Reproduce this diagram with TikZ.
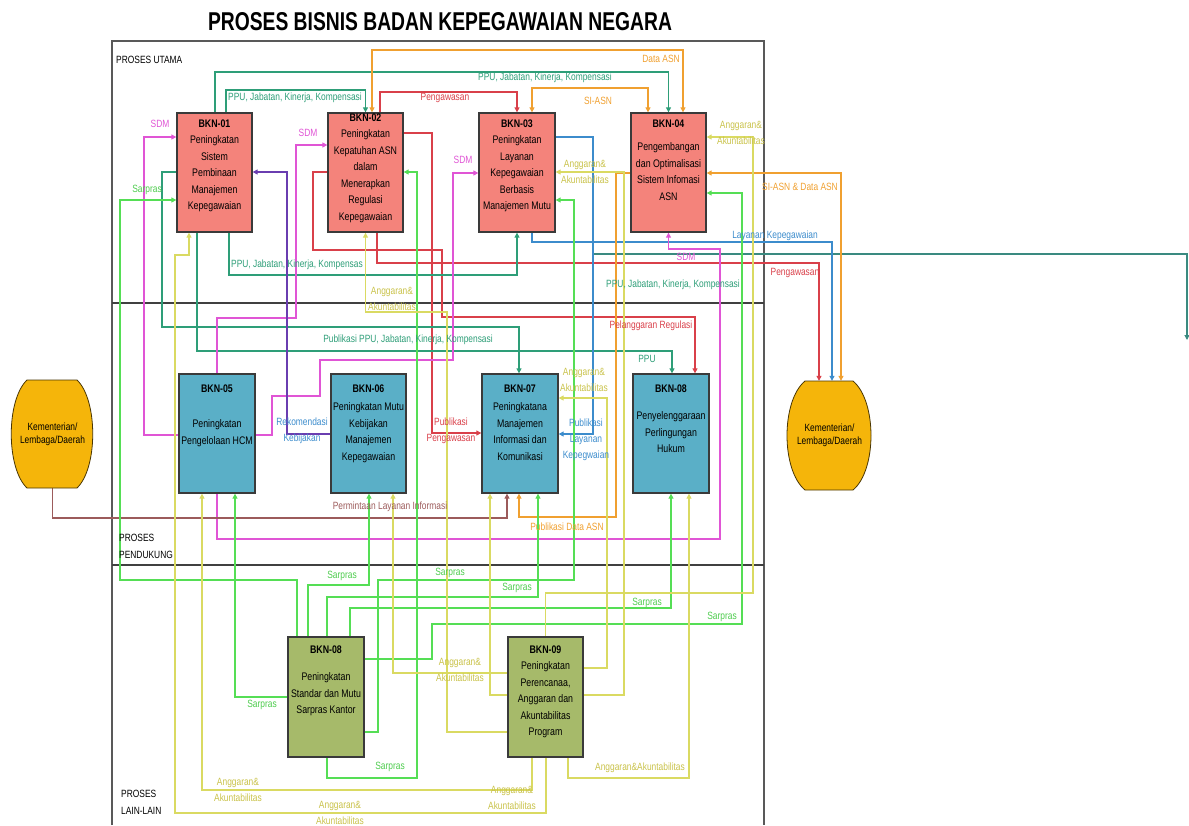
\documentclass[tikz,border=0pt]{standalone}
\usepackage{fontspec}
\setmainfont{Liberation Sans}[FakeStretch=0.8]
\usepackage{graphicx}
\usetikzlibrary{arrows.meta}
\pgfdeclarelayer{background}
\pgfsetlayers{background,main}
\definecolor{cred}{HTML}{D9404A}
\definecolor{cteal}{HTML}{2E9E78}
\definecolor{cdteal}{HTML}{3A8A80}
\definecolor{cgreen}{HTML}{55DE55}
\definecolor{cyel}{HTML}{DADA62}
\definecolor{cyellbl}{HTML}{C9C24A}
\definecolor{corange}{HTML}{F0A030}
\definecolor{cmag}{HTML}{E055D5}
\definecolor{cblue}{HTML}{3C8CCC}
\definecolor{cpurple}{HTML}{6A3DB0}
\definecolor{cbrown}{HTML}{9C5B5B}
\definecolor{csalmon}{HTML}{F4837B}
\definecolor{cboxteal}{HTML}{5AAFC7}
\definecolor{colive}{HTML}{A6BA6A}
\definecolor{cbarrel}{HTML}{F5B50A}
\definecolor{boxline}{HTML}{3A3A3A}
\tikzset{
  w/.style={line width=1.1pt, -{Triangle[length=5pt,width=5pt]}},
  ww/.style={line width=1.1pt, {Triangle[length=5pt,width=5pt]}-{Triangle[length=5pt,width=5pt]}},
  boxbase/.style={draw=boxline, line width=1.3pt, minimum width=75pt, minimum height=119pt, inner sep=0pt},
  upbox/.style={boxbase, fill=csalmon},
  midbox/.style={boxbase, fill=cboxteal},
  lowbox/.style={boxbase, fill=colive},
  btxt/.style={anchor=north, align=center, inner sep=0pt, font=\fontsize{11}{16.5}\selectfont},
  lbl/.style={inner sep=0pt, align=center, font=\fontsize{10.5}{16}\selectfont},
  lred/.style={lbl, text=cred}, lteal/.style={lbl, text=cteal}, lgreen/.style={lbl, text=cgreen!92!black},
  lyel/.style={lbl, text=cyellbl}, lorange/.style={lbl, text=corange}, lmag/.style={lbl, text=cmag},
  lblue/.style={lbl, text=cblue}, lbrown/.style={lbl, text=cbrown},
  sect/.style={inner sep=0pt, align=left, anchor=west, font=\fontsize{10.5}{17}\selectfont},
  barrel/.style={fill=cbarrel, draw=black!70!cbarrel, line width=0.8pt},
}
\begin{document}
\begin{tikzpicture}[x=1pt,y=-1pt]
\useasboundingbox (0,0) rectangle (1189,825);
% title
\node (title) at (440,22) {\resizebox{464pt}{18pt}{\bfseries PROSES BISNIS BADAN KEPEGAWAIAN NEGARA}};
% section labels
\node[sect] (s1) at (116,60) {PROSES UTAMA};
\node[sect] (s2) at (119,546) {PROSES\\PENDUKUNG};
\node[sect] (s3) at (121,802) {PROSES\\LAIN-LAIN};
% boxes
\node[upbox] (b1) at (214.5,172.5) {};
\node[upbox] (b2) at (365.5,172.5) {};
\node[upbox, minimum width=76pt] (b3) at (517,172.5) {};
\node[upbox] (b4) at (668.5,172.5) {};
\node[midbox, minimum width=76pt] (b5) at (217,433.5) {};
\node[midbox] (b6) at (368.5,433.5) {};
\node[midbox, minimum width=76pt] (b7) at (520,433.5) {};
\node[midbox, minimum width=76pt] (b8) at (671,433.5) {};
\node[lowbox, minimum width=76pt, minimum height=120pt] (b10) at (326,697) {};
\node[lowbox, minimum height=120pt] (b9) at (545.5,697) {};
% box texts
\node[btxt] (t1) at ([yshift=-7pt]b1.north) {\textbf{BKN-01}\\Peningkatan\\Sistem\\Pembinaan\\Manajemen\\Kepegawaian};
\node[btxt] (t2) at ([yshift=-1pt]b2.north) {\textbf{BKN-02}\\Peningkatan\\Kepatuhan ASN\\dalam\\Menerapkan\\Regulasi\\Kepegawaian};
\node[btxt] (t3) at ([yshift=-7pt]b3.north) {\textbf{BKN-03}\\Peningkatan\\Layanan\\Kepegawaian\\Berbasis\\Manajemen Mutu};
\node[btxt] (t4) at ([yshift=-7pt]b4.north) {\textbf{BKN-04}\\[7pt]Pengembangan\\dan Optimalisasi\\Sistem Infomasi\\ASN};
\node[btxt] (t5) at ([yshift=-11pt]b5.north) {\textbf{BKN-05}\\[19pt]Peningkatan\\Pengelolaan HCM};
\node[btxt] (t6) at ([yshift=-11pt]b6.north) {\textbf{BKN-06}\\[2pt]Peningkatan Mutu\\Kebijakan\\Manajemen\\Kepegawaian};
\node[btxt] (t7) at ([yshift=-11pt]b7.north) {\textbf{BKN-07}\\[2pt]Peningkatana\\Manajemen\\Informasi dan\\Komunikasi};
\node[btxt] (t8) at ([yshift=-11pt]b8.north) {\textbf{BKN-08}\\[11pt]Penyelenggaraan\\Perlingungan\\Hukum};
\node[btxt] (t10) at ([yshift=-9pt]b10.north) {\textbf{BKN-08}\\[11pt]Peningkatan\\Standar dan Mutu\\Sarpras Kantor};
\node[btxt] (t9) at ([yshift=-9pt]b9.north) {\textbf{BKN-09}\\Peningkatan\\Perencanaa,\\Anggaran dan\\Akuntabilitas\\Program};
% barrels
\path[barrel] (27,380) -- (77,380) .. controls (98,400) and (98,468) .. (77,488) -- (27,488) .. controls (6,468) and (6,400) .. (27,380) -- cycle;
\node[lbl, font=\fontsize{10.5}{13}\selectfont, minimum width=81pt, minimum height=108pt] (kl) at (52.5,434) {Kementerian/\\Lembaga/Daerah};
\path[barrel] (805,381) -- (853,381) .. controls (877,401) and (877,470) .. (853,490) -- (805,490) .. controls (781,470) and (781,401) .. (805,381) -- cycle;
\node[lbl, font=\fontsize{10.5}{13}\selectfont, minimum width=83pt, minimum height=109pt] (kr) at (829.5,435.5) {Kementerian/\\Lembaga/Daerah};
\coordinate (tstart) at (593,254);

\begin{pgfonlayer}{background}
% frame and separators
\draw[black!65, line width=1.2pt] (112,825) -- (112,41) -- (764,41) -- (764,825);
\draw[black!75, line width=1.8pt] (112,303) -- (764,303);
\draw[black!75, line width=1.8pt] (112,565) -- (764,565);
% red
\draw[w, cred] (380,0 |- b2.north) -- (380,92) -- (517,92) -- (b3.north);
\draw[w, cred] (b2.east |- 0,133) -- (432,133) -- (432,433) -- (b7.west |- 0,433);
\draw[w, cred] (b2.west |- 0,172) -- (313,172) -- (313,250) -- (442,250) -- (442,317) -- (695,317) -- (695,0 |- b8.north);
\draw[w, cred] (377,0 |- b2.south) -- (377,263) -- (819,263) -- (819,0 |- kr.north);
% teal
\draw[w, cteal] (215,0 |- b1.north) -- (215,72) -- (668.5,72) -- (b4.north);
\draw[w, cteal] (226,0 |- b1.north) -- (226,90) -- (365.5,90) -- (b2.north);
\draw[w, cteal] (229,0 |- b1.south) -- (229,275) -- (517,275) -- (b3.south);
\draw[w, cteal] (b1.west |- 0,172) -- (162,172) -- (162,327) -- (519,327) -- (519,0 |- b7.north);
\draw[w, cteal] (197,0 |- b1.south) -- (197,351) -- (672,351) -- (672,0 |- b8.north);
\draw[w, cdteal] (tstart) -- (1187,254) -- (1187,340);
% blue
\draw[w, cblue] (532,0 |- b3.south) -- (532,242) -- (832,242) -- (832,0 |- kr.north);
\draw[w, cblue] (b3.east |- 0,137) -- (593,137) -- (593,434) -- (b7.east |- 0,434);
% orange
\draw[ww, corange] (372,0 |- b2.north) -- (372,50) -- (683,50) -- (683,0 |- b4.north);
\draw[ww, corange] (532,0 |- b3.north) -- (532,88) -- (648,88) -- (648,0 |- b4.north);
\draw[ww, corange] (b4.east |- 0,173) -- (841,173) -- (841,0 |- kr.north);
\draw[w, corange] (b4.west |- 0,173) -- (616,173) -- (616,517) -- (519,517) -- (519,0 |- b7.south);
% magenta
\draw[w, cmag] (b5.west |- 0,435) -- (144,435) -- (144,137) -- (b1.west |- 0,137);
\draw[w, cmag] (b5.north) -- (217,318) -- (296,318) -- (296,145) -- (b2.west |- 0,145);
\draw[w, cmag] (b5.east |- 0,435) -- (272,435) -- (272,396) -- (320,396) -- (320,360) -- (453,360) -- (453,173) -- (b3.west |- 0,173);
\draw[w, cmag] (b5.south) -- (217,539) -- (720,539) -- (720,249) -- (668.5,249) -- (b4.south);
% purple
\draw[w, cpurple] (b6.west |- 0,434) -- (287,434) -- (287,172) -- (b1.east |- 0,172);
% brown
\draw[w, cbrown] (kl.south) -- (52.5,518) -- (507,518) -- (507,0 |- b7.south);
% green sarpras
\draw[w, cgreen] (297,0 |- b10.north) -- (297,580) -- (120,580) -- (120,200) -- (b1.west |- 0,200);
\draw[w, cgreen] (308,0 |- b10.north) -- (308,585) -- (369,585) -- (369,0 |- b6.south);
\draw[w, cgreen] (327,0 |- b10.north) -- (327,597) -- (538,597) -- (538,0 |- b7.south);
\draw[w, cgreen] (350,0 |- b10.north) -- (350,608) -- (671,608) -- (b8.south);
\draw[w, cgreen] (b10.east |- 0,659) -- (432,659) -- (432,624) -- (742,624) -- (742,193) -- (b4.east |- 0,193);
\draw[w, cgreen] (b10.east |- 0,732) -- (378,732) -- (378,580) -- (574,580) -- (574,200) -- (b3.east |- 0,200);
\draw[w, cgreen] (b10.west |- 0,697) -- (235,697) -- (235,0 |- b5.south);
\draw[w, cgreen] (327,0 |- b10.south) -- (327,778) -- (417,778) -- (417,172) -- (b2.east |- 0,172);
% yellow anggaran
\draw[w, cyel] (546,0 |- b9.south) -- (546,813) -- (175,813) -- (175,255) -- (189,255) -- (189,0 |- b1.south);
\draw[w, cyel] (532,0 |- b9.south) -- (532,790) -- (202,790) -- (202,0 |- b5.south);
\draw[w, cyel] (568,0 |- b9.south) -- (568,778) -- (689,778) -- (689,0 |- b8.south);
\draw[w, cyel] (b9.west |- 0,673) -- (393,673) -- (393,0 |- b6.south);
\draw[w, cyel] (b9.west |- 0,695) -- (490,695) -- (490,0 |- b7.south);
\draw[w, cyel] (b9.east |- 0,668) -- (607,668) -- (607,398) -- (b7.east |- 0,398);
\draw[w, cyel] (b9.east |- 0,695) -- (624,695) -- (624,172) -- (b3.east |- 0,172);
\draw[w, cyel] (b9.north) -- (545.5,593) -- (753,593) -- (753,137) -- (b4.east |- 0,137);
\draw[w, cyel] (b9.west |- 0,732) -- (447,732) -- (447,312) -- (365.5,312) -- (b2.south);
\end{pgfonlayer}

% connector labels
\node[lorange] (l1) at (661,59) {Data ASN};
\node[lteal] (l2) at (545,78) {PPU, Jabatan, Kinerja, Kompensasi};
\node[lteal] (l3) at (295,98) {PPU, Jabatan, Kinerja, Kompensasi};
\node[lred] (l4) at (445,98) {Pengawasan};
\node[lorange] (l5) at (598,101) {SI-ASN};
\node[lmag] (l6) at (160,124) {SDM};
\node[lmag] (l7) at (308,133) {SDM};
\node[lmag] (l8) at (463,160) {SDM};
\node[lgreen] (l9) at (147,190) {Sarpras};
\node[lyel] (l10) at (585,172) {Anggaran\&\\Akuntabilitas};
\node[lyel] (l11) at (741,133) {Anggaran\&\\Akuntabilitas};
\node[lorange] (l12) at (800,187) {SI-ASN \& Data ASN};
\node[lblue] (l13) at (775,236) {Layanan Kepegawaian};
\node[lmag] (l14) at (686,257) {SDM};
\node[lteal] (l15) at (297,265) {PPU, Jabatan, Kinerja, Kompensas};
\node[lred] (l16) at (795,273) {Pengawasan};
\node[lteal] (l17) at (673,285) {PPU, Jabatan, Kinerja, Kompensasi};
\node[lyel] (l18) at (392,299) {Anggaran\&\\Akuntabilitas};
\node[lred] (l19) at (651,326) {Pelanggaran Regulasi};
\node[lteal] (l20) at (408,340) {Publikasi PPU, Jabatan, Kinerja, Kompensasi};
\node[lteal] (l21) at (647,359) {PPU};
\node[lyel] (l22) at (584,380) {Anggaran\&\\Akuntabilitas};
\node[lblue] (l23) at (302,431) {Rekomendasi\\Kebijakan};
\node[lred] (l24) at (451,431) {Publikasi\\Pengawasan};
\node[lblue] (l25) at (586,440) {Publikasi\\Layanan\\Kepegwaian};
\node[lbrown] (l26) at (390,507) {Permintaan Layanan Informasi};
\node[lorange] (l27) at (567,527) {Publikasi Data ASN};
\node[lgreen] (l28) at (342,576) {Sarpras};
\node[lgreen] (l29) at (450,573) {Sarpras};
\node[lgreen] (l30) at (517,588) {Sarpras};
\node[lgreen] (l31) at (647,603) {Sarpras};
\node[lgreen] (l32) at (722,617) {Sarpras};
\node[lgreen] (l33) at (262,705) {Sarpras};
\node[lgreen] (l34) at (390,767) {Sarpras};
\node[lyel] (l35) at (460,670) {Anggaran\&\\Akuntabilitas};
\node[lyel] (l36) at (238,790) {Anggaran\&\\Akuntabilitas};
\node[lyel] (l37) at (340,813) {Anggaran\&\\Akuntabilitas};
\node[lyel] (l38) at (512,798) {Anggaran\&\\Akuntabilitas};
\node[lyel] (l39) at (640,768) {Anggaran\&Akuntabilitas};
\end{tikzpicture}
\end{document}
